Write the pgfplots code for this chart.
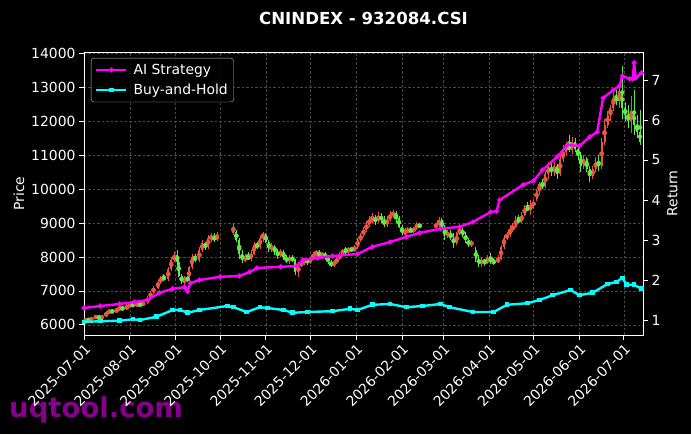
\documentclass[border=0pt]{standalone}
\usepackage{fontspec}
\setmainfont{DejaVu Sans}
\usepackage{pgfplots}
\pgfplotsset{compat=1.18}
\usepackage{pgfplotstable}
\definecolor{candred}{RGB}{235,85,65}
\definecolor{candgreen}{RGB}{95,235,70}
\definecolor{aimag}{RGB}{255,0,255}
\definecolor{bhcyan}{RGB}{0,255,255}
\definecolor{wmpurple}{RGB}{135,0,140}
\definecolor{gridc}{RGB}{75,75,75}
\newcommand\fs{\fontsize{13.9}{16}\selectfont}

% rising candles (close >= open)
\pgfplotstableread{
d o h l c
1 6100 6200 6060 6160
5 6120 6240 6100 6200
8 6200 6300 6170 6250
12 6180 6300 6160 6260
15 6260 6400 6230 6350
17 6350 6460 6320 6420
22 6380 6500 6360 6450
24 6450 6560 6420 6500
29 6470 6600 6450 6550
31 6550 6650 6520 6600
36 6560 6700 6520 6620
40 6580 6700 6560 6650
43 6650 6850 6620 6800
45 6800 7000 6780 6950
47 6950 7150 6900 7100
50 7100 7320 7050 7250
52 7250 7450 7200 7400
57 7350 7700 7300 7650
59 7650 8000 7600 7900
61 7900 8150 7850 8050
68 7250 7450 7150 7400
71 7300 7750 7280 7700
73 7700 8100 7650 8000
78 7900 8300 7850 8200
80 8200 8500 8150 8400
84 8300 8650 8250 8550
86 8550 8700 8450 8600
90 8500 8740 8480 8650
101 8700 9000 8650 8900
109 7900 8100 7850 8000
113 7950 8200 7880 8100
115 8100 8440 8050 8350
119 8300 8650 8250 8550
121 8550 8740 8450 8700
127 8250 8400 8150 8300
133 8050 8250 8000 8150
139 7900 8060 7800 8000
145 7550 7850 7410 7750
147 7750 7900 7700 7850
149 7850 7980 7780 7900
153 7850 8000 7800 7950
155 7950 8150 7900 8100
157 8100 8200 8000 8150
161 8050 8150 7950 8100
169 7750 7900 7720 7850
171 7850 8000 7800 7950
173 7950 8150 7900 8100
175 8100 8250 8050 8200
179 8150 8300 8100 8250
183 8200 8350 8150 8300
185 8300 8550 8250 8500
187 8500 8700 8450 8650
189 8650 8880 8600 8800
191 8800 9050 8750 8950
193 8950 9200 8900 9100
195 9100 9300 9000 9150
199 9050 9320 9000 9200
205 8950 9200 8900 9100
207 9100 9350 9050 9250
209 9250 9380 9150 9300
217 8700 8850 8650 8750
219 8750 8880 8700 8800
223 8750 8900 8720 8850
225 8850 9030 8800 8950
238 8900 9000 8850 8950
240 8950 9180 8880 9100
246 8650 8790 8550 8700
252 8400 8750 8350 8700
254 8700 8940 8650 8800
262 8350 8500 8300 8450
269 7800 8000 7720 7900
273 7850 8050 7800 7950
280 7850 8050 7820 7950
282 7950 8350 7900 8300
284 8300 8650 8250 8550
286 8550 8750 8500 8650
288 8650 8940 8600 8800
290 8800 9000 8750 8900
292 8900 9200 8850 9100
296 9050 9320 9000 9250
298 9250 9550 9200 9450
302 9400 9680 9250 9550
304 9550 9680 9450 9600
306 9700 10000 9650 9950
308 9950 10200 9820 10150
312 10100 10550 10050 10450
314 10450 10800 10300 10650
318 10500 10800 10400 10700
322 10450 11000 10400 10900
324 10900 11300 10800 11100
326 11100 11400 11000 11300
330 11150 11550 11050 11400
338 10700 11000 10600 10900
344 10400 10700 10300 10600
346 10600 10950 10500 10800
350 10700 11500 10600 11400
352 11400 12060 11300 11900
354 11900 12300 11800 12200
356 12200 12500 12000 12400
358 12400 12900 12300 12700
362 12600 13000 12400 12900
370 12000 12750 11670 12300
}\candup

% falling candles (close < open)
\pgfplotstableread{
d o h l c
3 6160 6210 6090 6120
10 6250 6280 6150 6180
19 6420 6450 6340 6380
26 6500 6540 6430 6470
33 6600 6680 6530 6560
38 6620 6650 6540 6580
54 7400 7500 7300 7350
63 8050 8200 7750 7850
64 7850 7950 7400 7450
66 7450 7500 7200 7250
70 7400 7450 7250 7300
75 8000 8100 7850 7900
82 8400 8450 8200 8300
88 8600 8700 8450 8500
103 8750 8800 8450 8500
105 8500 8550 7950 8100
107 8100 8200 7820 7900
111 8000 8150 7900 7950
117 8350 8450 8250 8300
123 8650 8720 8400 8450
125 8450 8500 8150 8250
129 8300 8350 8050 8150
131 8150 8250 7950 8050
135 8150 8200 7900 7950
137 7950 8050 7820 7900
141 8000 8050 7850 7900
143 7900 7950 7470 7550
151 7900 7980 7780 7850
159 8150 8200 7950 8050
163 8100 8150 7920 8000
165 8000 8050 7800 7850
167 7850 7900 7700 7750
177 8200 8300 8100 8150
181 8250 8300 8150 8200
197 9150 9250 8950 9050
201 9200 9300 9000 9100
203 9100 9200 8900 8950
211 9300 9350 9000 9150
213 9150 9200 8850 8900
215 8900 8950 8650 8700
221 8800 8880 8700 8750
227 8950 9000 8850 8900
242 9100 9150 8800 8850
244 8850 8950 8500 8650
248 8700 8790 8500 8550
250 8550 8700 8260 8400
256 8800 8850 8600 8650
258 8650 8740 8400 8500
260 8500 8550 8300 8350
265 8200 8300 7850 7950
267 7950 8050 7700 7800
271 7900 7950 7750 7850
275 7950 8120 7800 7900
277 7900 7980 7760 7800
294 9100 9250 9000 9050
300 9450 9620 9350 9400
310 10150 10300 10000 10100
316 10650 10800 10400 10500
320 10700 10750 10300 10450
328 11300 11600 11100 11150
332 11400 11500 11100 11200
334 11200 11250 10850 11000
336 11000 11100 10500 10700
340 10900 10950 10500 10600
342 10600 10700 10200 10400
348 10800 11000 10550 10700
360 12700 12940 12500 12600
364 12900 13650 12060 12400
366 12400 12560 12000 12200
368 12200 12500 11800 12000
372 12300 12940 11590 11900
374 11900 12200 11500 11700
376 11700 12350 11300 11400
}\canddn

\pgfplotstableread{
d r
0 1.30
11 1.35
24 1.40
34 1.45
43 1.50
51 1.68
60 1.78
68 1.82
70 1.72
72 1.92
78 2.00
92 2.08
105 2.10
112 2.20
117 2.30
133 2.33
144 2.35
148 2.50
158 2.55
168 2.60
185 2.65
195 2.83
207 2.95
218 3.08
227 3.18
241 3.28
254 3.33
263 3.45
275 3.70
279 3.72
281 4.00
297 4.38
304 4.48
310 4.75
320 5.08
327 5.38
335 5.35
342 5.58
347 5.70
351 6.55
358 6.75
362 6.85
364 7.10
369 7.03
371 7.03
372 7.43
373 7.05
377 7.18
}\ailine

\pgfplotstableread{
d r
0 0.95
11 0.97
24 0.98
33 1.02
38 1.00
49 1.08
60 1.25
65 1.25
70 1.18
78 1.25
97 1.35
101 1.32
110 1.20
119 1.32
124 1.30
135 1.25
141 1.18
151 1.20
168 1.22
180 1.28
185 1.25
195 1.38
207 1.40
218 1.32
229 1.35
241 1.40
247 1.32
263 1.20
277 1.20
286 1.38
300 1.42
308 1.50
317 1.62
329 1.75
335 1.62
344 1.68
354 1.90
360 1.95
364 2.05
367 1.88
372 1.88
377 1.78
}\bhline

\pgfplotsset{
  darkax/.style={
    at={(84pt,99pt)}, anchor=south west,
    width=559pt, height=283pt, scale only axis,
    xmin=0, xmax=378,
    axis line style={white, line width=0.9pt},
    tick style={white, line width=0.8pt},
    major tick length=5pt,
    tick align=outside,
    tick label style={font=\fs, text=white},
    label style={font=\fs, text=white},
    /pgf/number format/assume math mode=true,
    scaled y ticks=false,
    yticklabel style={/pgf/number format/.cd, fixed, set thousands separator={}},
  },
  wick/.style={only marks, mark=none, #1,
    error bars/.cd, y dir=both, y explicit, error mark=none,
    error bar style={line width=0.8pt, #1}},
  body/.style={only marks, mark=none, #1,
    error bars/.cd, y dir=both, y explicit, error mark=none,
    error bar style={line width=2pt, #1}},
}

\begin{document}
\begin{tikzpicture}[x=1pt,y=1pt]
\useasboundingbox (0,0) rectangle (691,434);
\fill[black] (0,0) rectangle (691,434);
\node[anchor=base west, inner sep=0pt, text=wmpurple, font=\fontsize{27.5}{29}\selectfont\bfseries] at (9,16.5) {uqtool.com};

\begin{axis}[darkax,
  ymin=5700, ymax=14050,
  xtick={0,31,62,92,123,153,184,215,243,274,304,335,365},
  xticklabels={2025-07-01,2025-08-01,2025-09-01,2025-10-01,2025-11-01,2025-12-01,2026-01-01,2026-02-01,2026-03-01,2026-04-01,2026-05-01,2026-06-01,2026-07-01},
  xticklabel style={rotate=45, anchor=north east, inner sep=2pt},
  ytick={6000,7000,...,14000},
  xtick pos=bottom, ytick pos=left,
  grid=major,
  major grid style={gridc, line width=0.5pt, dash pattern=on 2.5pt off 2pt},
  ylabel={Price},
]
\addplot[wick=candred] table[x=d, y expr={(\thisrow{h}+\thisrow{l})/2}, y error expr={(\thisrow{h}-\thisrow{l})/2}] {\candup};
\addplot[wick=candgreen] table[x=d, y expr={(\thisrow{h}+\thisrow{l})/2}, y error expr={(\thisrow{h}-\thisrow{l})/2}] {\canddn};
\addplot[body=candred] table[x=d, y expr={(\thisrow{o}+\thisrow{c})/2}, y error expr={(\thisrow{c}-\thisrow{o})/2}] {\candup};
\addplot[body=candgreen] table[x=d, y expr={(\thisrow{o}+\thisrow{c})/2}, y error expr={(\thisrow{o}-\thisrow{c})/2}] {\canddn};
\end{axis}

\begin{axis}[darkax,
  ymin=0.625, ymax=7.7,
  axis y line*=right, axis x line=none,
  ytick={1,2,3,4,5,6,7},
  ylabel={Return},
  legend style={at={(0.0125,0.979)}, anchor=north west, fill=black, fill opacity=0.8, text opacity=1, draw=white!75!black, rounded corners=3pt, text=white, font=\fs, row sep=4pt, column sep=4pt, inner xsep=4pt, inner ysep=4pt},
  legend cell align=left,
  legend image code/.code={\draw[mark repeat=2, mark phase=2, #1] plot coordinates {(0pt,0pt) (15pt,0pt) (30pt,0pt)};},
]
\addplot[aimag, line width=2.4pt, mark=*, mark size=1.1pt] table[x=d, y=r] {\ailine};
\addlegendentry{AI Strategy}
\addplot[bhcyan, line width=2.4pt, mark=square*, mark size=1.1pt] table[x=d, y=r] {\bhline};
\addlegendentry{Buy-and-Hold}
\end{axis}

\node[text=white, font=\fontsize{16.6}{18}\selectfont\bfseries] at (363.5,416) {CNINDEX - 932084.CSI};
\end{tikzpicture}
\end{document}
